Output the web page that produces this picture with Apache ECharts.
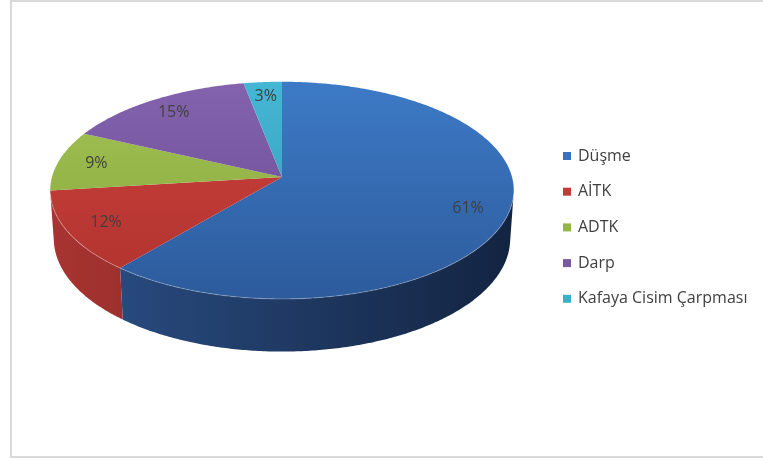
<!DOCTYPE html>
<html><head><meta charset="utf-8">
<script src="https://cdn.jsdelivr.net/npm/echarts@6/dist/echarts.min.js"></script>
<style>
html,body{margin:0;padding:0;background:#fff;}
#frame{position:absolute;left:10px;top:0;width:760px;height:454px;border:2px solid #d9d9d9;border-right:none;}
#chart{position:absolute;left:0;top:0;width:763px;height:459px;}
</style></head><body><div id="frame"></div><div id="chart"></div>
<script>
const categories = ['Düşme', 'AİTK', 'ADTK', 'Darp', 'Kafaya Cisim Çarpması'];
const values = [61, 12, 9, 15, 3];
const baseColors = ['#3a72bd', '#c23b37', '#93b447', '#7a58a2', '#3aaecd'];
const topColors = [['#3d7ac6', '#2d5b9c'], ['#cc423d', '#b0322e'], ['#a2c355', '#86a53c'], ['#8463ae', '#684890'], ['#45b6d4', '#2e9ab8']];
const sideColors = [['#2c5088', '#132441'], ['#a83431', '#5e1b18'], ['#7a9633', '#3e4d1a'], ['#5d437c', '#2e213e'], ['#2d8aa3', '#164552']];

// 3D projection of a tilted pie (circle of radius 1)
const cx = 282, cy = 177, K = 230;
const sinP = 0.465, cosP = Math.sqrt(1 - sinP * sinP), Dist = 7.2, H = 0.24;
const alpha = Math.acos(1 / (Dist * cosP)); // visible half-range of the side wall
const total = values.reduce((a, b) => a + b, 0);
const cum = [0];
values.forEach((v, i) => cum.push(cum[i] + v));

function proj(X, Y, Z) {
  const up = Y * sinP + Z * cosP;
  const d = Y * cosP - Z * sinP;
  const s = Dist / (Dist + d);
  return [cx + K * X * s, cy - K * up * s];
}
function rim(t, Z, f) {
  f = f || 1;
  return proj(f * Math.sin(t), f * Math.cos(t), Z);
}
function arc(a0, a1, Z) {
  const n = Math.max(4, Math.ceil((a1 - a0) / 0.01));
  const p = [];
  for (let k = 0; k <= n; k++) p.push(rim(a0 + (a1 - a0) * k / n, Z));
  return p;
}
function makeRender(i) {
  return function (params, api) {
    const a0 = cum[i] / total * 2 * Math.PI;
    const a1 = cum[i + 1] / total * 2 * Math.PI;
    const children = [];
    const s0 = Math.max(a0, Math.PI - alpha), s1 = Math.min(a1, Math.PI + alpha);
    if (s1 > s0) {
      const top = arc(s0, s1, 0);
      const bot = arc(s0, s1, -H).reverse();
      children.push({
        type: 'polygon', z2: 1,
        shape: { points: top.concat(bot) },
        style: {
          fill: { type: 'linear', x: cx - K, y: 0, x2: cx + K, y2: 0, global: true,
            colorStops: [{ offset: 0, color: sideColors[i][0] }, { offset: 1, color: sideColors[i][1] }] }
        }
      });
      children.push({
        type: 'polyline', z2: 3,
        shape: { points: arc(s0, s1, 0) },
        style: { stroke: 'rgba(255,255,255,0.22)', lineWidth: 1.2, fill: null }
      });
    }
    const face = [proj(0, 0, 0)].concat(arc(a0, a1, 0));
    const yTop = rim(0, 0)[1], yBot = rim(Math.PI, 0)[1];
    children.push({
      type: 'polygon', z2: 2,
      shape: { points: face },
      style: {
        fill: { type: 'linear', x: 0, y: yTop, x2: 0, y2: yBot, global: true,
          colorStops: [{ offset: 0, color: topColors[i][0] }, { offset: 1, color: topColors[i][1] }] }
      }
    });
    const m = (a0 + a1) / 2;
    const lp = rim(m, 0, 0.83);
    children.push({
      type: 'text', z2: 4,
      style: {
        text: Math.round(values[i] / total * 100) + '%',
        x: lp[0], y: lp[1],
        fill: '#404040', fontSize: 16, fontFamily: 'Open Sans',
        align: 'center', verticalAlign: 'middle'
      }
    });
    return { type: 'group', children: children };
  };
}

const chart = echarts.init(document.getElementById('chart'), null, { renderer: 'canvas' });
chart.setOption({
  animation: false,
  legend: {
    orient: 'vertical', left: 563, top: 148, padding: 0,
    icon: 'rect', itemWidth: 8, itemHeight: 8, itemGap: 19.7,
    textStyle: { fontSize: 16, lineHeight: 16, fontFamily: 'Open Sans', color: '#404040', padding: [0, 0, 0, 2] },
    data: categories
  },
  series: categories.map((name, i) => ({
    type: 'custom', name: name, coordinateSystem: 'none',
    itemStyle: { color: baseColors[i] },
    renderItem: makeRender(i),
    data: [[values[i]]]
  }))
});
</script></body></html>
